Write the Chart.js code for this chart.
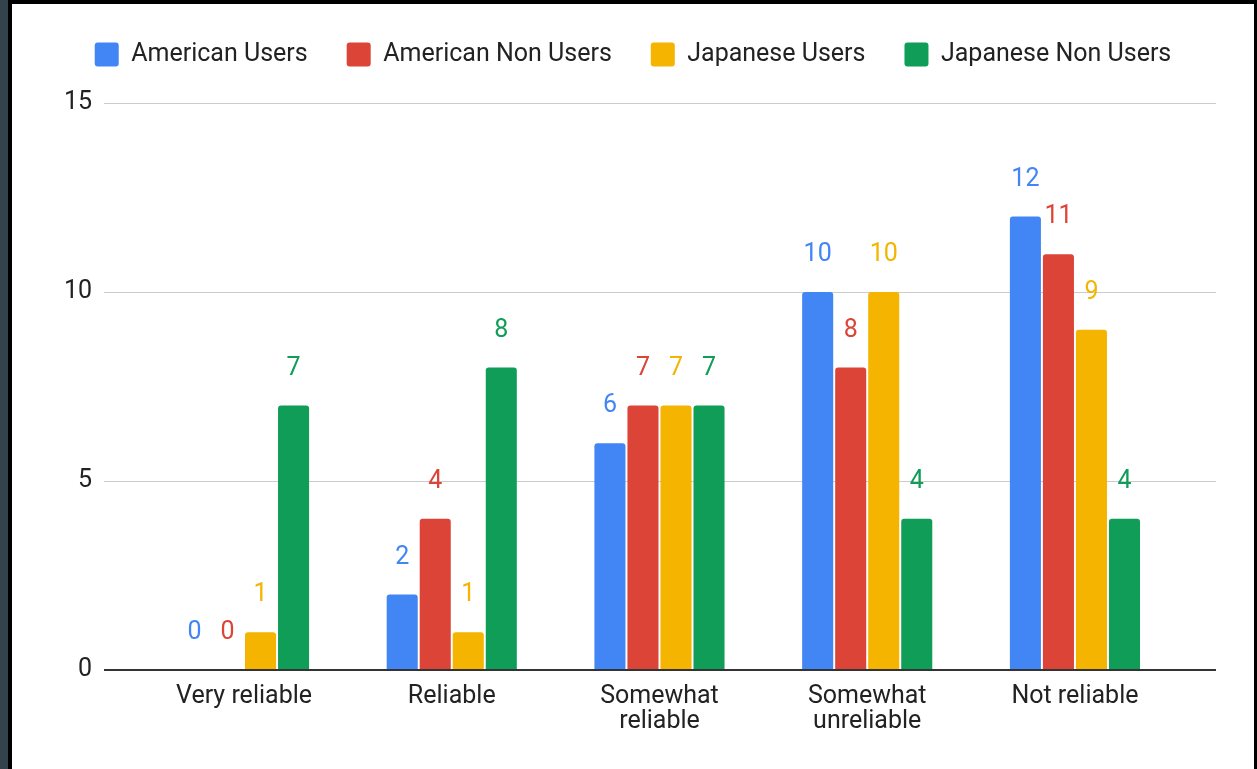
<!DOCTYPE html>
<html>
<head>
<meta charset="utf-8">
<title>Reliability ratings</title>
<script src="https://cdn.jsdelivr.net/npm/chart.js@4/dist/chart.umd.min.js"></script>
<style>
  html, body { margin: 0; padding: 0; background: #000; width: 1257px; height: 769px; overflow: hidden; }
  #edge { position: absolute; left: 0; top: 0; width: 8px; height: 769px; background: #33434b; }
  #panel { position: absolute; left: 12px; top: 4px; width: 1242px; height: 765px; background: #fff; }
  #chart { position: absolute; left: 0; top: 0; }
</style>
</head>
<body>
<div id="edge"></div>
<div id="panel"></div>
<canvas id="chart" width="1257" height="769"></canvas>
<script>
// Rating categories shown along the x axis
const categories = ['Very reliable', 'Reliable', ['Somewhat', 'reliable'], ['Somewhat', 'unreliable'], 'Not reliable'];

// Respondent counts per group
const americanUsers    = [0, 2, 6, 10, 12];
const americanNonUsers = [0, 4, 7, 8, 11];
const japaneseUsers    = [1, 1, 7, 10, 9];
const japaneseNonUsers = [7, 8, 7, 4, 4];

const seriesNames = ['American Users', 'American Non Users', 'Japanese Users', 'Japanese Non Users'];
const yTicks = [0, 5, 10, 15];

const colors = ['#4285f4', '#db4437', '#f4b400', '#0f9d58'];
const FONT = 'Roboto, "Noto Sans", sans-serif';
const FONT_SIZE = 25;
const textColor = '#222222';

const seriesValues = [americanUsers, americanNonUsers, japaneseUsers, japaneseNonUsers];

const datasets = seriesValues.map((values, s) => ({
  label: seriesNames[s],
  data: values.map((v, i) => ({ x: i, y: v })),
  backgroundColor: colors[s],
  borderWidth: 0,
  borderRadius: { topLeft: 3, topRight: 3, bottomLeft: 0, bottomRight: 0 },
  borderSkipped: 'start',
  categoryPercentage: 0.636,
  barPercentage: 0.94
}));

// Value labels above every bar, in the series colour
const valueLabels = {
  id: 'valueLabels',
  afterDatasetsDraw(chart) {
    const ctx = chart.ctx;
    ctx.save();
    ctx.font = FONT_SIZE + 'px ' + FONT;
    ctx.textAlign = 'center';
    ctx.textBaseline = 'middle';
    chart.data.datasets.forEach((ds, s) => {
      const meta = chart.getDatasetMeta(s);
      meta.data.forEach((bar, i) => {
        ctx.fillStyle = ds.backgroundColor;
        ctx.fillText(String(ds.data[i].y), bar.x, bar.y - 37);
      });
    });
    ctx.restore();
  }
};

// Extra room between the legend and the plot
const legendSpacing = {
  id: 'legendSpacing',
  beforeInit(chart) {
    const fit = chart.legend.fit;
    chart.legend.fit = function () {
      fit.call(this);
      this.height += 26;
    };
  }
};

new Chart(document.getElementById('chart'), {
  type: 'bar',
  data: { datasets },
  plugins: [legendSpacing, valueLabels],
  options: {
    responsive: false,
    devicePixelRatio: 1,
    animation: false,
    layout: { padding: { left: 50, right: 41, top: 3, bottom: 0 } },
    plugins: {
      tooltip: { enabled: false },
      legend: {
        position: 'top',
        labels: {
          font: { family: FONT, size: FONT_SIZE },
          color: textColor,
          boxWidth: 24,
          boxHeight: 24,
          padding: 39,
          useBorderRadius: true,
          borderRadius: 3
        }
      }
    },
    scales: {
      x: {
        type: 'linear',
        min: -0.674,
        max: 4.679,
        offset: false,
        afterBuildTicks(scale) {
          scale.ticks = categories.map((_, i) => ({ value: i }));
        },
        afterFit(scale) { scale.height = 99; },
        grid: { display: false, drawTicks: false },
        border: { display: false },
        ticks: {
          autoSkip: false,
          maxRotation: 0,
          padding: 14,
          font: { family: FONT, size: FONT_SIZE, lineHeight: 1.0 },
          color: textColor,
          callback: (v) => categories[v]
        }
      },
      y: {
        min: 0,
        max: 15,
        afterBuildTicks(scale) {
          scale.ticks = yTicks.map(v => ({ value: v }));
        },
        afterFit(scale) { scale.width = 54; },
        border: { display: false },
        grid: {
          drawTicks: false,
          color: (c) => c.tick && c.tick.value === 0 ? '#333333' : '#cccccc',
          lineWidth: (c) => c.tick && c.tick.value === 0 ? 2 : 1
        },
        ticks: {
          padding: 12,
          font: { family: FONT, size: FONT_SIZE },
          color: textColor
        }
      }
    }
  }
});
</script>
</body>
</html>
